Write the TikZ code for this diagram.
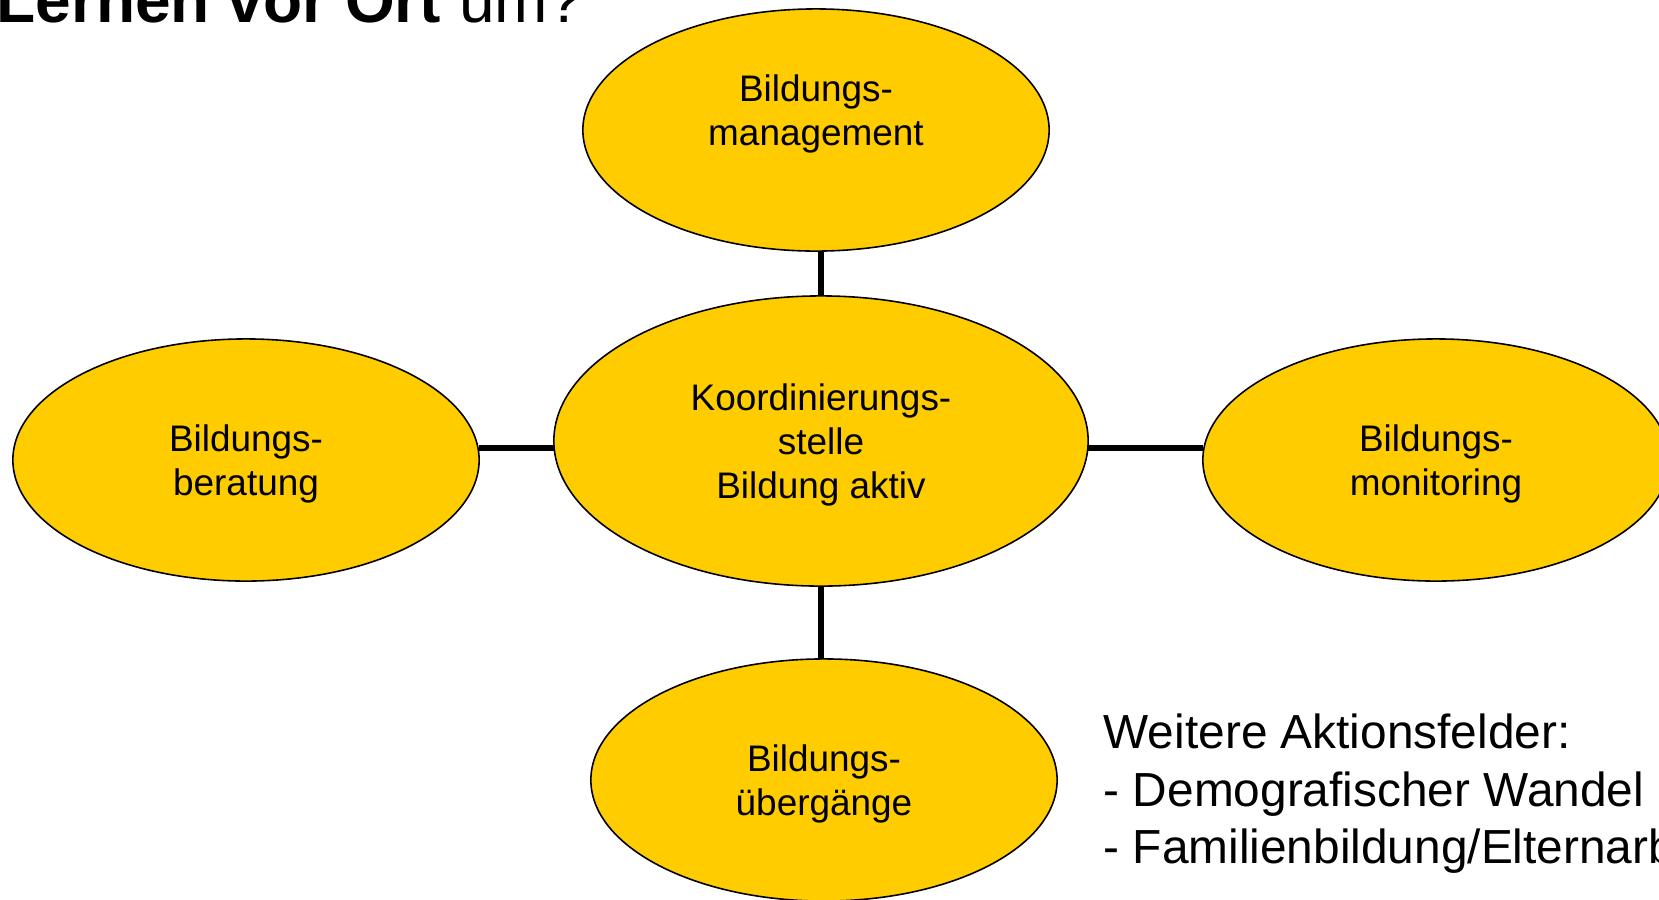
\documentclass[tikz,border=0pt]{standalone}
\usepackage{fontspec}
\setmainfont{Liberation Sans}
\usepackage{tikz}
\usetikzlibrary{shapes.geometric}
\usetikzlibrary{positioning}
\definecolor{gold}{HTML}{FFCC00}

\begin{document}
\begin{tikzpicture}[
        x=0.01cm, y=-0.01cm,
        field/.style={ellipse, draw=black, line width=0.45pt, fill=gold,
            minimum width=4.66cm, minimum height=2.42cm, inner sep=0, outer sep=0,
            text depth=0cm, align=center, font=\fontsize{10.5pt}{12.6pt}\selectfont},
        link/.style={draw=black, line width=1.5pt}
    ]
        % Bildgroesse festlegen
        \useasboundingbox (0,0) rectangle (1659,899);

        % Ueberschrift (oben abgeschnitten)
        \node[anchor=base west, inner sep=0, font=\fontsize{18.2pt}{22pt}\selectfont] (title) at (-4,22) {\textbf{Lernen vor Ort} um?};

        % Mitte und die vier Felder
        \node[field, minimum width=5.34cm, minimum height=2.9cm] (center) at (821,441) {Koordinierungs-\\stelle\\Bildung aktiv};
        \node[field, text depth=0.40cm] (mgmt) at (816,130) {Bildungs-\\management};
        \node[field] (beratung) at (246,460) {Bildungs-\\beratung};
        \node[field] (monitoring) at (1436,460) {Bildungs-\\monitoring};
        \node[field] (uebergang) at (824,780) {Bildungs-\\übergänge};

        % Verbindungen
        \coordinate (achse) at (0,448);
        \draw[link] (center.north) -- (center.north |- mgmt.south);
        \draw[link] (center.south) -- (center.south |- uebergang.north);
        \draw[link] (beratung.east |- achse) -- (center.west |- achse);
        \draw[link] (center.east |- achse) -- (monitoring.west |- achse);

        % weitere Felder
        \node[anchor=north west, inner sep=0, align=left, font=\fontsize{13.6pt}{16.4pt}\selectfont] (weitere) at (1103,713) {Weitere Aktionsfelder:\\- Demografischer Wandel\\- Familienbildung/Elternarbeit};
    \end{tikzpicture}
\end{document}
